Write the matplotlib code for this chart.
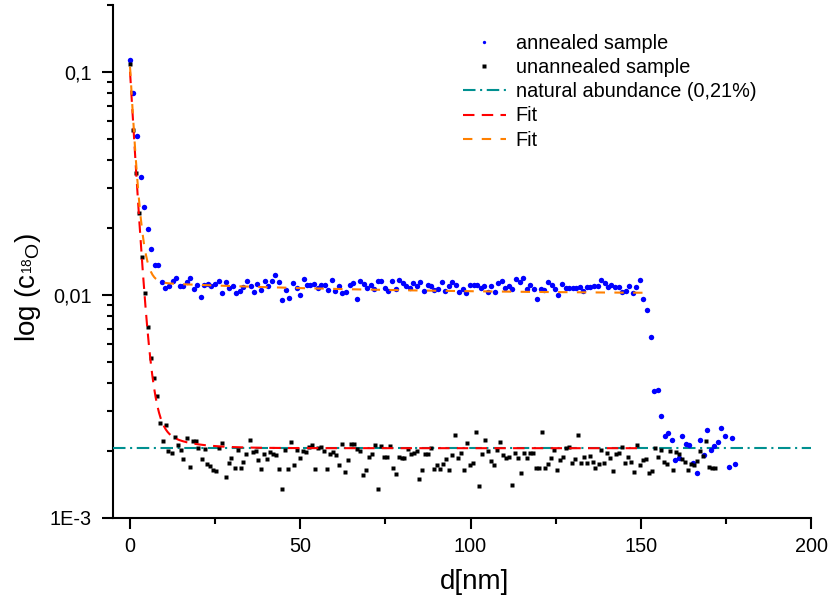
import numpy as np
import matplotlib
matplotlib.use("Agg")
import matplotlib.pyplot as plt
from matplotlib.ticker import FixedLocator, FixedFormatter, LogLocator, NullFormatter, MultipleLocator

plt.rcParams['font.family'] = ['Liberation Sans', 'DejaVu Sans']
plt.rcParams['mathtext.fontset'] = 'custom'
plt.rcParams['mathtext.rm'] = 'Liberation Sans'
plt.rcParams['mathtext.it'] = 'Liberation Sans:italic'

# ---------------- data ----------------
d_annealed = [
    0, 1.0, 2.1, 3.1, 4.2, 5.2, 6.2, 7.3, 8.3, 9.4,
    10.4, 11.4, 12.5, 13.5, 14.6, 15.6, 16.6, 17.7, 18.7, 19.8,
    20.8, 21.8, 22.9, 23.9, 25.0, 26.0, 27.0, 28.1, 29.1, 30.2,
    31.2, 32.2, 33.3, 34.3, 35.4, 36.4, 37.4, 38.5, 39.5, 40.6,
    41.6, 42.6, 43.7, 44.7, 45.8, 46.8, 47.8, 48.9, 49.9, 51.0,
    52.0, 53.0, 54.1, 55.1, 56.2, 57.2, 58.2, 59.3, 60.3, 61.4,
    62.4, 63.4, 64.5, 65.5, 66.6, 67.6, 68.6, 69.7, 70.7, 71.8,
    72.8, 73.8, 74.9, 75.9, 77.0, 78.0, 79.0, 80.1, 81.1, 82.2,
    83.2, 84.2, 85.3, 86.3, 87.4, 88.4, 89.4, 90.5, 91.5, 92.6,
    93.6, 94.6, 95.7, 96.7, 97.8, 98.8, 99.8, 100.9, 101.9, 103.0,
    104.0, 105.0, 106.1, 107.1, 108.2, 109.2, 110.2, 111.3, 112.3, 113.4,
    114.4, 115.4, 116.5, 117.5, 118.6, 119.6, 120.6, 121.7, 122.7, 123.8,
    124.8, 125.8, 126.9, 127.9, 129.0, 130.0, 131.0, 132.1, 133.1, 134.2,
    135.2, 136.2, 137.3, 138.3, 139.4, 140.4, 141.4, 142.5, 143.5, 144.6,
    145.6, 146.6, 147.7, 148.7, 149.8, 150.8, 151.8, 152.9, 153.9, 155.0,
    156.0, 157.0, 158.1, 159.1, 160.2, 161.2, 162.2, 163.3, 164.3, 165.4,
    166.4, 167.4, 168.5, 169.5, 170.6, 171.6, 172.6, 173.7, 174.7, 175.8,
    176.8, 177.8]
c_annealed = [
    0.1128, 0.0800, 0.0515, 0.0336, 0.0248, 0.01965, 0.01603, 0.01355, 0.01355, 0.01143,
    0.01075, 0.01098, 0.01155, 0.01192, 0.01098, 0.01098, 0.01143, 0.01192, 0.0106, 0.01109,
    0.00977, 0.01109, 0.01117, 0.01098, 0.01117, 0.01155, 0.01018, 0.0114, 0.01068, 0.01098,
    0.01018, 0.01042, 0.01083, 0.01155, 0.01091, 0.01031, 0.01117, 0.01053, 0.01155, 0.01098,
    0.01155, 0.01226, 0.0114, 0.00947, 0.01053, 0.00964, 0.01125, 0.01075, 0.00997, 0.01176,
    0.01109, 0.01109, 0.0112, 0.01068, 0.01109, 0.01109, 0.01046, 0.01168, 0.01042, 0.01091,
    0.0102, 0.01025, 0.01109, 0.01132, 0.00954, 0.01155, 0.01117, 0.0107, 0.01109, 0.01057,
    0.01155, 0.01155, 0.01075, 0.01042, 0.01155, 0.01064, 0.01168, 0.01132, 0.01091, 0.01068,
    0.01132, 0.01098, 0.0114, 0.01042, 0.01105, 0.01091, 0.01053, 0.01064, 0.0114, 0.01035,
    0.01094, 0.0114, 0.01109, 0.01025, 0.0106, 0.01014, 0.01101, 0.01101, 0.01101, 0.0107,
    0.01094, 0.01028, 0.01098, 0.01025, 0.01132, 0.01155, 0.01075, 0.01094, 0.01057, 0.0118,
    0.0114, 0.01192, 0.01057, 0.01109, 0.01057, 0.00954, 0.01057, 0.01053, 0.01136, 0.01109,
    0.01057, 0.00997, 0.01117, 0.0107, 0.0107, 0.0107, 0.0107, 0.01087, 0.01042, 0.01087,
    0.01087, 0.01094, 0.01094, 0.01163, 0.01125, 0.01079, 0.01109, 0.01087, 0.01087, 0.01031,
    0.01039, 0.01094, 0.0102, 0.01087, 0.01168, 0.0096, 0.00857, 0.00644, 0.00369, 0.00373,
    0.00285, 0.00233, 0.00239, 0.00222, 0.001814, 0.001858, 0.002325, 0.00213, 0.00212, 0.001764,
    0.001586, 0.00222, 0.001905, 0.00248, 0.002005, 0.002097, 0.002192, 0.002518, 0.002325, 0.001693,
    0.002278, 0.001747]

d_unannealed = [
    0, 0.9, 1.7, 2.7, 3.5, 4.5, 5.3, 6.1, 7.0, 7.8,
    8.7, 9.6, 10.5, 11.3, 12.2, 13.1, 14.0, 14.9, 15.7, 16.6,
    17.5, 18.4, 19.3, 20.1, 21.0, 21.9, 22.7, 23.6, 24.5, 25.3,
    26.2, 27.1, 28.1, 29.0, 29.8, 30.7, 31.6, 32.5, 33.3, 34.2,
    35.1, 36.0, 36.9, 37.7, 38.6, 39.4, 40.3, 41.2, 42.1, 42.9,
    43.8, 44.7, 45.6, 46.4, 47.3, 48.2, 49.1, 50.0, 50.9, 51.7,
    52.6, 53.4, 54.3, 55.2, 56.0, 56.9, 57.9, 58.7, 59.5, 60.4,
    61.3, 62.2, 63.1, 63.9, 64.8, 65.7, 66.6, 67.4, 68.3, 69.2,
    70.1, 71.0, 71.9, 72.7, 73.6, 74.5, 75.4, 76.3, 77.1, 78.0,
    78.9, 79.8, 80.6, 81.5, 82.4, 83.3, 84.2, 85.0, 85.8, 86.7,
    87.6, 88.5, 89.4, 90.2, 91.1, 92.0, 92.9, 93.8, 94.6, 95.5,
    96.4, 97.3, 98.2, 99.0, 99.9, 100.8, 101.7, 102.6, 103.4, 104.3,
    105.2, 106.1, 107.0, 107.8, 108.7, 109.6, 110.5, 111.3, 112.1, 113.0,
    113.9, 114.8, 115.7, 116.5, 117.4, 118.3, 119.2, 120.1, 121.0, 121.8,
    122.7, 123.6, 124.5, 125.4, 126.3, 127.1, 128.0, 128.9, 129.8, 130.7,
    131.5, 132.4, 133.3, 134.2, 135.1, 135.9, 136.7, 137.6, 138.4, 139.3,
    140.2, 141.1, 141.9, 142.8, 143.7, 144.6, 145.5, 146.3, 147.2, 148.1,
    149.0, 149.9, 150.7, 151.6, 152.5, 153.4, 154.3, 155.1, 156.0, 156.9,
    157.8, 158.6, 159.5, 160.4, 161.3, 162.2, 163.0, 163.9, 164.8, 165.7,
    166.6, 167.4, 168.3, 169.2, 170.1, 171.0, 171.8]
c_unannealed = [
    0.1083, 0.0548, 0.0352, 0.0232, 0.0148, 0.0102, 0.00714, 0.00522, 0.00422, 0.003525,
    0.00265, 0.002214, 0.002597, 0.001998, 0.001956, 0.002308, 0.002118, 0.002012, 0.001834, 0.002284,
    0.001693, 0.002214, 0.002214, 0.002048, 0.001839, 0.002033, 0.001741, 0.001705, 0.001636, 0.00162,
    0.002054, 0.002169, 0.001522, 0.001754, 0.001852, 0.001671, 0.002005, 0.001676, 0.001783, 0.001936,
    0.00223, 0.00197, 0.001985, 0.00182, 0.001648, 0.00193, 0.001839, 0.001965, 0.001936, 0.00191,
    0.001653, 0.001345, 0.002005, 0.001658, 0.002178, 0.001729, 0.002018, 0.001852, 0.001997, 0.001971,
    0.002069, 0.002125, 0.001658, 0.002047, 0.002075, 0.001991, 0.001648, 0.001924, 0.001965, 0.001904,
    0.001729, 0.002147, 0.001608, 0.00182, 0.002147, 0.002133, 0.002033, 0.001997, 0.001554, 0.001632,
    0.001866, 0.001924, 0.002118, 0.001345, 0.00209, 0.001871, 0.001866, 0.00209, 0.001676, 0.00157,
    0.001866, 0.001858, 0.001858, 0.002026, 0.001924, 0.001956, 0.001991, 0.001486, 0.001641, 0.001924,
    0.00193, 0.00206, 0.001648, 0.001718, 0.001653, 0.001736, 0.001828, 0.001641, 0.001904, 0.002356,
    0.001847, 0.00195, 0.001632, 0.002169, 0.001729, 0.00176, 0.00243, 0.001391, 0.001924, 0.002224,
    0.001991, 0.001791, 0.001723, 0.002012, 0.002178, 0.001916, 0.001847, 0.001877, 0.001406, 0.001944,
    0.001847, 0.001591, 0.001956, 0.001847, 0.001944, 0.001944, 0.001671, 0.001665, 0.002423, 0.001671,
    0.001736, 0.001858, 0.002018, 0.001641, 0.001809, 0.001877, 0.002047, 0.002075, 0.001765, 0.001839,
    0.002342, 0.001765, 0.001871, 0.001765, 0.001896, 0.001783, 0.001676, 0.001747, 0.002012, 0.00176,
    0.00195, 0.001852, 0.001625, 0.00193, 0.001944, 0.002069, 0.001754, 0.001866, 0.001778, 0.001608,
    0.002118, 0.001718, 0.001815, 0.001839, 0.001591, 0.001615, 0.002054, 0.001877, 0.002005, 0.001773,
    0.001736, 0.001991, 0.001641, 0.001977, 0.001924, 0.001834, 0.001773, 0.001636, 0.001747, 0.001718,
    0.001791, 0.001997, 0.00189, 0.002201, 0.001693, 0.001665, 0.001665]

natural_abundance = 0.00205

# fit parameters: c(d) = c0 + A1*exp(-d/t1) + A2*exp(-d/t2)
fit_unannealed = dict(c0=0.00205, A1=0.097, t1=1.655, A2=0.00098, t2=8.1, dmax=150.0)
fit_annealed = dict(c0=0.01006, A1=0.094, t1=1.45, A2=0.001365, t2=67.0, dmax=152.0)

x_ticks = [0, 50, 100, 150, 200]
x_ticklabels = ['0', '50', '100', '150', '200']
y_ticks = [1e-3, 1e-2, 1e-1]
y_ticklabels = ['1E-3', '0,01', '0,1']

labels = ['annealed sample', 'unannealed sample', 'natural abundance (0,21%)', 'Fit', 'Fit']


def fit_curve(p):
    d = np.linspace(0, p['dmax'], 600)
    return d, p['c0'] + p['A1'] * np.exp(-d / p['t1']) + p['A2'] * np.exp(-d / p['t2'])


# ---------------- figure ----------------
fig = plt.figure(figsize=(8.32, 6.06), dpi=100)
ax = fig.add_axes([113 / 832, 1 - 517.7 / 606, (811 - 113) / 832, (517.7 - 4.6) / 606])

ax.set_yscale('log')
ax.set_xlim(-5, 200)
ax.set_ylim(1e-3, 0.2)

h1, = ax.plot(d_annealed, c_annealed, 'o', color='#0000ff', ms=3.9, mec='none', zorder=4)
h2, = ax.plot(d_unannealed, c_unannealed, 's', color='black', ms=3.3, mec='none', zorder=4)
h3, = ax.plot([-5, 200], [natural_abundance, natural_abundance], color='#009090', lw=1.5,
              dashes=(6, 2.2, 1, 2.2), zorder=3)
dr, cr = fit_curve(fit_unannealed)
h4, = ax.plot(dr, cr, color='#ff0000', lw=1.5, dashes=(5.5, 3.5), zorder=5)
do, co = fit_curve(fit_annealed)
h5, = ax.plot(do, co, color='#ff8000', lw=1.5, dashes=(4.5, 4.5), zorder=5)

for s in ['top', 'right']:
    ax.spines[s].set_visible(False)
for s in ['left', 'bottom']:
    ax.spines[s].set_linewidth(1.5)

ax.xaxis.set_major_locator(FixedLocator(x_ticks))
ax.xaxis.set_major_formatter(FixedFormatter(x_ticklabels))
ax.xaxis.set_minor_locator(MultipleLocator(25))
ax.yaxis.set_major_locator(FixedLocator(y_ticks))
ax.yaxis.set_major_formatter(FixedFormatter(y_ticklabels))
ax.yaxis.set_minor_locator(LogLocator(base=10, subs=np.arange(2, 10), numticks=20))
ax.yaxis.set_minor_formatter(NullFormatter())

ax.tick_params(which='major', direction='out', length=8, width=1.5, labelsize=14.3)
ax.tick_params(which='minor', direction='out', length=4.5, width=1.5)
ax.tick_params(axis='x', which='major', pad=6)
ax.tick_params(axis='y', which='major', pad=7.5)

ax.set_xlabel('d[nm]', fontsize=20)
ax.xaxis.set_label_coords((475 - 113) / 698, -(569 - 517.7) / 513.1)
ax.set_ylabel(r'log (c$_{^{18}\mathrm{O}}$)', fontsize=20)
ax.yaxis.set_label_coords((43 - 113) / 698, (517.7 - 287) / 513.1)

leg = ax.legend([h1, h2, h3, h4, h5], labels, loc='upper left',
                bbox_to_anchor=(463 / 832, 1 - 34 / 606), bbox_transform=fig.transFigure,
                frameon=False, fontsize=14.3, handlelength=2.15, handletextpad=0.5,
                labelspacing=0.26, borderpad=0, borderaxespad=0)
handles = leg.legend_handles
handles[0].set_markersize(2.4)
handles[1].set_markersize(3.0)

fig.savefig('out.png', dpi=100)
